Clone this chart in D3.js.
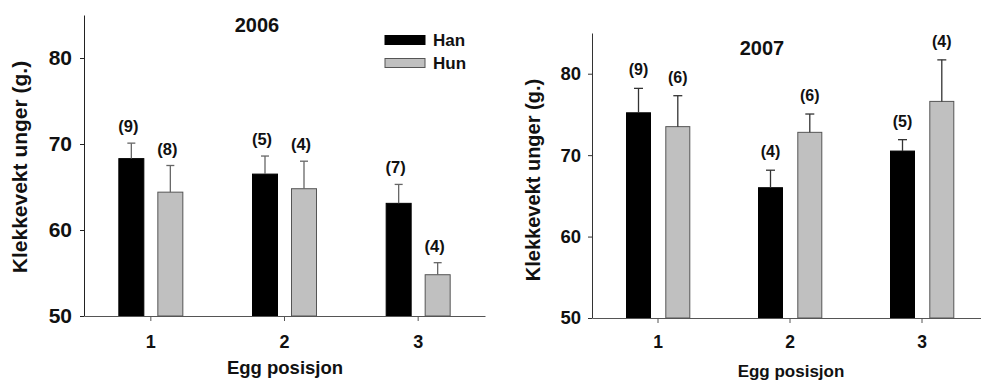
<!DOCTYPE html>
<html>
<head>
<meta charset="utf-8">
<script src="https://cdn.jsdelivr.net/npm/d3@7"></script>
<style>
  body { margin: 0; background: #fff; }
  svg { display: block; font-family: "Liberation Sans", Arial, sans-serif; font-weight: bold; }
</style>
</head>
<body>
<div id="chart"></div>
<script>
// DATA
const categories = ['1', '2', '3'];
const seriesNames = ['Han', 'Hun'];
const yTicks = [50, 60, 70, 80];

const han2006 = [68.3, 66.5, 63.1];
const hun2006 = [64.4, 64.8, 54.8];
const hanErr2006 = [1.8, 2.1, 2.2];
const hunErr2006 = [3.1, 3.2, 1.4];
const hanN2006 = [9, 5, 7];
const hunN2006 = [8, 4, 4];

const han2007 = [75.2, 66.0, 70.5];
const hun2007 = [73.5, 72.8, 76.6];
const hanErr2007 = [3.0, 2.15, 1.4];
const hunErr2007 = [3.8, 2.25, 5.1];
const hanN2007 = [9, 4, 5];
const hunN2007 = [6, 6, 4];

const W = 981, H = 383;
const svg = d3.select('#chart').append('svg').attr('width', W).attr('height', H);

// PANEL SETUP
const panels = [
  {
    title: '2006', han: han2006, hun: hun2006, hanErr: hanErr2006, hunErr: hunErr2006,
    hanN: hanN2006, hunN: hunN2006,
    x0: 84, x1: 485, yTop: 15, yBot: 316,
    barW: 25, hanOff: -32, hunOff: 7, cap: 8,
    yFont: 21, yPad: 8, xFont: 18, xPad: 14, nFont: 16.5, nOff: 11, nShift: -3,
    errColor: '#666', axisColor: '#222',
    titleX: 257, titleY: 32, titleFont: 20,
    yLabX: 27, yLabY: 167, yLabFont: 21,
    xLabX: 285, xLabY: 374, xLabFont: 18.5
  },
  {
    title: '2007', han: han2007, hun: hun2007, hanErr: hanErr2007, hunErr: hunErr2007,
    hanN: hanN2007, hunN: hunN2007,
    x0: 592, x1: 988, yTop: 33, yBot: 318,
    barW: 24, hanOff: -31.5, hunOff: 7.8, cap: 9,
    yFont: 18.5, yPad: 7, xFont: 17.5, xPad: 13, nFont: 16, nOff: 13, nShift: 0,
    errColor: '#333', axisColor: '#333',
    titleX: 762, titleY: 55, titleFont: 20,
    yLabX: 540, yLabY: 180, yLabFont: 20,
    xLabX: 791, xLabY: 377, xLabFont: 17
  }
];

panels.forEach((p) => drawPanel(p));

// DRAW ONE PANEL
function drawPanel(p) {
  const g = svg.append('g');

  const x = d3.scaleBand().domain(categories).range([p.x0, p.x1]).padding(0);
  const y = d3.scaleLinear().domain([50, 85]).range([p.yBot, p.yTop]);

  const rows = categories.map((c, i) => [
    { cat: c, s: 'Han', v: p.han[i], e: p.hanErr[i], n: p.hanN[i], off: p.hanOff },
    { cat: c, s: 'Hun', v: p.hun[i], e: p.hunErr[i], n: p.hunN[i], off: p.hunOff }
  ]).flat();

  const cx = (d) => x(d.cat) + x.bandwidth() / 2 + d.off;

  // BARS
  g.selectAll('rect.bar')
    .data(rows)
    .enter()
    .append('rect')
    .attr('x', (d) => cx(d))
    .attr('y', (d) => y(d.v))
    .attr('width', p.barW)
    .attr('height', (d) => y(50) - y(d.v))
    .attr('fill', (d) => (d.s === 'Han' ? '#000' : '#c0c0c0'))
    .attr('stroke', (d) => (d.s === 'Han' ? '#000' : '#555'))
    .attr('stroke-width', 1);

  // ERROR BARS
  const eb = g.selectAll('g.err').data(rows).enter().append('g').attr('stroke', p.errColor).attr('stroke-width', 1.3);
  eb.append('line')
    .attr('x1', (d) => cx(d) + p.barW / 2)
    .attr('x2', (d) => cx(d) + p.barW / 2)
    .attr('y1', (d) => y(d.v))
    .attr('y2', (d) => y(d.v + d.e));
  eb.append('line')
    .attr('x1', (d) => cx(d) + p.barW / 2 - p.cap / 2)
    .attr('x2', (d) => cx(d) + p.barW / 2 + p.cap / 2)
    .attr('y1', (d) => y(d.v + d.e))
    .attr('y2', (d) => y(d.v + d.e));

  // N LABELS
  g.selectAll('text.n')
    .data(rows)
    .enter()
    .append('text')
    .attr('x', (d) => cx(d) + p.barW / 2 + p.nShift)
    .attr('y', (d) => y(d.v + d.e) - p.nOff)
    .attr('text-anchor', 'middle')
    .attr('font-size', p.nFont)
    .attr('fill', '#111')
    .text((d) => `(${d.n})`);

  // AXES
  const ya = g.append('g')
    .attr('transform', `translate(${p.x0},0)`)
    .call(d3.axisLeft(y).tickValues(yTicks).tickSize(4).tickSizeOuter(0).tickPadding(p.yPad));
  ya.select('.domain').attr('stroke', p.axisColor);
  ya.selectAll('.tick line').attr('stroke', p.axisColor);
  ya.selectAll('text').attr('font-size', p.yFont).attr('font-family', null).attr('fill', '#111');

  const xa = g.append('g')
    .attr('transform', `translate(0,${p.yBot})`)
    .call(d3.axisBottom(x).tickSize(5).tickSizeOuter(0).tickPadding(p.xPad));
  xa.select('.domain').attr('stroke', '#555');
  xa.selectAll('.tick line').attr('stroke', '#555');
  xa.selectAll('text').attr('font-size', p.xFont).attr('font-family', null).attr('fill', '#111');

  // TITLES
  g.append('text').attr('x', p.titleX).attr('y', p.titleY).attr('text-anchor', 'middle')
    .attr('font-size', p.titleFont).attr('fill', '#111').text(p.title);

  g.append('text')
    .attr('transform', `translate(${p.yLabX},${p.yLabY}) rotate(-90)`)
    .attr('text-anchor', 'middle').attr('font-size', p.yLabFont).attr('fill', '#111')
    .text('Klekkevekt unger (g.)');

  g.append('text').attr('x', p.xLabX).attr('y', p.xLabY).attr('text-anchor', 'middle')
    .attr('font-size', p.xLabFont).attr('fill', '#111').text('Egg posisjon');
}

// LEGEND
const lg = svg.append('g');
seriesNames.forEach((s, i) => {
  lg.append('rect')
    .attr('x', 385).attr('y', 35.5 + i * 23).attr('width', 40).attr('height', 9)
    .attr('fill', s === 'Han' ? '#000' : '#c0c0c0')
    .attr('stroke', s === 'Han' ? '#000' : '#555');
  lg.append('text').attr('x', 433).attr('y', 46 + i * 23)
    .attr('font-size', 17).attr('fill', '#111').text(s);
});
</script>
</body>
</html>
